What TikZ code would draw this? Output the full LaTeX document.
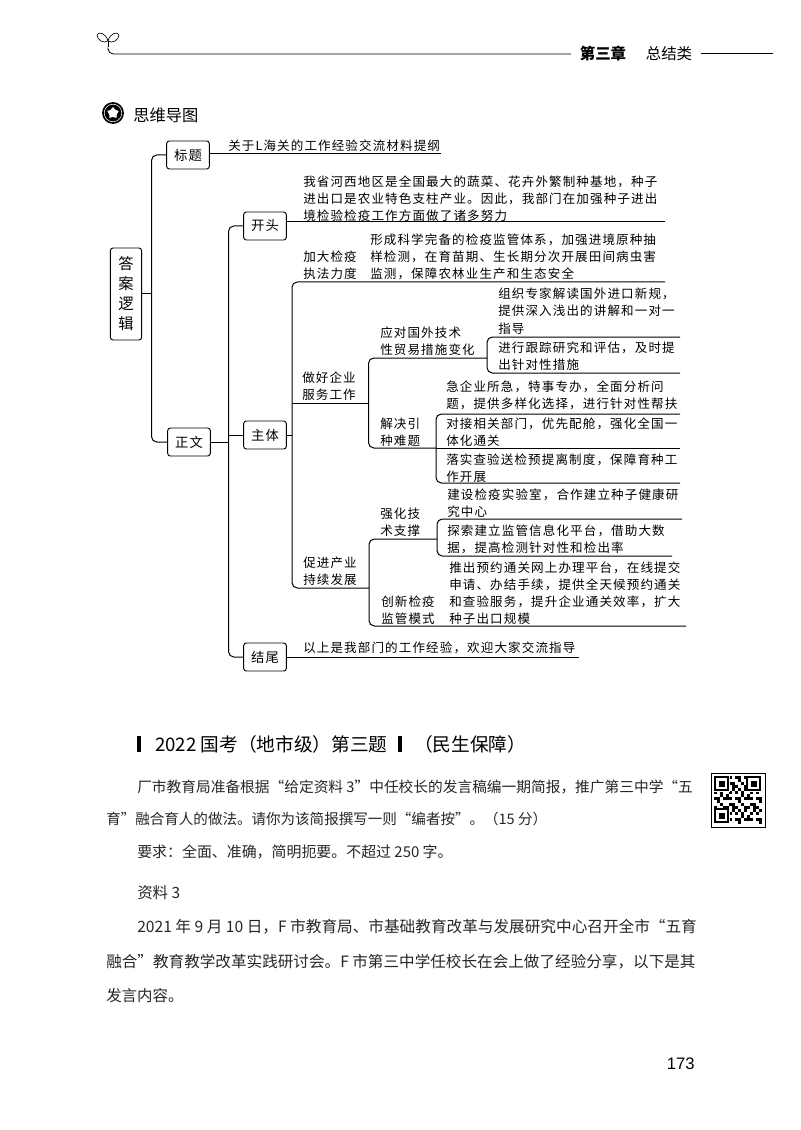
\documentclass[tikz,border=0pt]{standalone}
\usepackage{fontspec}
\setmainfont{Noto Sans CJK SC}
\newfontfamily\latinsans{Liberation Sans}
\newfontfamily\maptext[LetterSpace=9]{Noto Sans CJK SC}
\usetikzlibrary{calc, shapes.geometric}

\begin{document}
\begin{tikzpicture}[x=0.75pt,y=-0.75pt,
    mmbox/.style={draw, rounded corners=2pt, line width=0.7pt, minimum width=32pt, minimum height=21pt, inner sep=0pt, font=\maptext\fontsize{10}{12}\selectfont},
    mmtext/.style={anchor=west, inner sep=0pt, align=left, font=\maptext\fontsize{9.4}{12.9}\selectfont},
    bodytext/.style={anchor=west, inner sep=0pt, text=black!85, font=\fontsize{#1}{14}\selectfont},
    headtext/.style={inner sep=0pt, font=\fontsize{11.6}{13}\selectfont},
    link/.style={line width=0.75pt, rounded corners=4pt},
    rule/.style={line width=0.75pt}]
  \useasboundingbox (0,0) rectangle (800,1130);

  % 1. 页眉
  \draw[line width=0.5pt] (108,41) .. controls (110,33) and (118,31) .. (119,35) .. controls (119,40) and (112,44) .. (108,41);
  \draw[line width=0.5pt] (108,41) .. controls (106,33) and (98,31) .. (97,35) .. controls (97,40) and (104,44) .. (108,41);
  \draw[line width=0.5pt] (108,41) -- (108,47);
  \node[headtext, font=\bfseries\fontsize{11.6}{13}\selectfont] (chapter) at (603,54) {第三章};
  \node[headtext] (kind) at (669,54) {总结类};
  \coordinate (headL) at (108,50);
  \coordinate (headM) at (571,54);
  \coordinate (headR) at (773,54);
  \draw[link, line width=0.6pt] (headL) |- (headM);
  \draw[rule] (kind.east) ++(9,0) -- (headR);

  % 2. 小标题
  \fill (113,113) circle[radius=8.2pt];
  \draw[white, line width=0.4pt] (113,113) circle[radius=6.6pt];
  \node[star, star points=5, fill=white, minimum size=9pt, inner sep=0pt] (badge) at (113,113) {};
  \node[anchor=west, inner sep=0pt, font=\fontsize{12.2}{14}\selectfont] (maptitle) at (133,115) {思维导图};

  % 3. 第一层
  \node[mmbox, minimum width=23.5pt, minimum height=69pt, align=center, font=\maptext\fontsize{11.5}{15}\selectfont] (answer) at (126,294) {答\\案\\逻\\辑};
  \node[mmbox] (title) at (188,155) {标题};
  \node[mmbox] (body) at (189,442) {正文};
  \coordinate (trunkA) at (151.5,294);
  \draw[link] (title.west) -| (trunkA);
  \draw[link] (body.west) -| (trunkA);
  \draw[rule] (answer.east) -- (trunkA);

  \node[mmtext] (titletext) at (228,146) {关于L海关的工作经验交流材料提纲};
  \coordinate (titleend) at (441,154);
  \draw[rule] (title.east |- titleend) -- (titleend);

  % 4. 第二层
  \node[mmbox] (open) at (265,226) {开头};
  \node[mmbox] (main) at (265,435) {主体};
  \node[mmbox] (close) at (265,657) {结尾};
  \coordinate (trunkB) at (228.5,442);
  \draw[link] (open.west) -| (trunkB);
  \draw[link] (close.west) -| (trunkB);
  \draw[rule] (body.east) -- (trunkB);
  \draw[rule] (trunkB |- main.west) -- (main.west);

  \node[mmtext] (opentext) at (303,199) {我省河西地区是全国最大的蔬菜、花卉外繁制种基地，种子\\进出口是农业特色支柱产业。因此，我部门在加强种子进出\\境检验检疫工作方面做了诸多努力};
  \coordinate (openend) at (665,222);
  \draw[rule] (open.east |- openend) -- (openend);

  \node[mmtext] (closetext) at (303,648) {以上是我部门的工作经验，欢迎大家交流指导};
  \coordinate (closeend) at (579,657);
  \draw[rule] (close.east) -- (closeend);

  % 5. 主体
  \node[mmtext] (strict) at (303,265) {加大检疫\\执法力度};
  \node[mmtext] (stricttext) at (370,257) {形成科学完备的检疫监管体系，加强进境原种抽\\样检测，在育苗期、生长期分次开展田间病虫害\\监测，保障农林业生产和生态安全};
  \node[mmtext] (service) at (302,386) {做好企业\\服务工作};
  \node[mmtext] (promote) at (303,571) {促进产业\\持续发展};
  \coordinate (trunkC) at (292,435);
  \coordinate (strictend) at (665,282);
  \coordinate (serviceend) at (368.5,403);
  \coordinate (promoteend) at (369,588);
  \draw[rule] (main.east) -- (trunkC);
  \draw[link] (strictend) -| (trunkC);
  \draw[link] (promoteend) -| (trunkC);
  \draw[rule] (trunkC |- serviceend) -- (serviceend);

  % 6. 做好企业服务工作
  \node[mmtext] (foreign) at (380,341) {应对国外技术\\性贸易措施变化};
  \node[mmtext] (solve) at (380,432) {解决引\\种难题};
  \coordinate (foreignend) at (487,358);
  \coordinate (solveend) at (436,448);
  \draw[link] (foreignend) -| (serviceend);
  \draw[link] (solveend) -| (serviceend);

  \node[mmtext] (foreignA) at (498,311) {组织专家解读国外进口新规，\\提供深入浅出的讲解和一对一\\指导};
  \node[mmtext] (foreignB) at (498,356) {进行跟踪研究和评估，及时提\\出针对性措施};
  \coordinate (foreignAend) at (680,337);
  \coordinate (foreignBend) at (680,373);
  \draw[link] (foreignAend) -| (foreignend);
  \draw[link] (foreignBend) -| (foreignend);

  \node[mmtext] (solveA) at (446,395) {急企业所急，特事专办，全面分析问\\题，提供多样化选择，进行针对性帮扶};
  \node[mmtext] (solveB) at (446,432) {对接相关部门，优先配舱，强化全国一\\体化通关};
  \node[mmtext] (solveC) at (446,468) {落实查验送检预提离制度，保障育种工\\作开展};
  \coordinate (solveAend) at (680,414);
  \coordinate (solveBend) at (680,448);
  \coordinate (solveCend) at (680,483);
  \draw[link] (solveAend) -| (solveend);
  \draw[link] (solveCend) -| (solveend);
  \draw[rule] (solveend) -- (solveBend);

  % 7. 促进产业持续发展
  \node[mmtext] (tech) at (380,522) {强化技\\术支撑};
  \node[mmtext] (mode) at (381,610) {创新检疫\\监管模式};
  \coordinate (techend) at (437,539);
  \coordinate (modeend) at (686,626);
  \draw[link] (techend) -| (promoteend);
  \draw[link] (modeend) -| (promoteend);

  \node[mmtext] (techA) at (447,503) {建设检疫实验室，合作建立种子健康研\\究中心};
  \node[mmtext] (techB) at (447,539) {探索建立监管信息化平台，借助大数\\据，提高检测针对性和检出率};
  \node[mmtext] (modeA) at (449,593) {推出预约通关网上办理平台，在线提交\\申请、办结手续，提供全天候预约通关\\和查验服务，提升企业通关效率，扩大\\种子出口规模};
  \coordinate (techAend) at (682,519);
  \coordinate (techBend) at (672,556);
  \draw[link] (techAend) -| (techend);
  \draw[link] (techBend) -| (techend);

  % 8. 正文部分
  \fill (137,736) rectangle (141,752);
  \fill (398,736) rectangle (402,752);
  \node[anchor=west, inner sep=0pt, font=\fontsize{14}{16}\selectfont] (examtitle) at (155,744) {2022 国考（地市级）第三题};
  \node[anchor=west, inner sep=0pt, font=\fontsize{14}{16}\selectfont] (examkind) at (414,744) {（民生保障）};
  \node[bodytext=11.03] (lineA) at (137,787) {厂市教育局准备根据“给定资料 3”中任校长的发言稿编一期简报，推广第三中学“五};
  \node[bodytext=10.9] (lineB) at (106,819) {育”融合育人的做法。请你为该简报撰写一则“编者按”。（15 分）};
  \node[bodytext=11.2] (lineC) at (137,852) {要求：全面、准确，简明扼要。不超过 250 字。};
  \node[bodytext=11.6] (lineD) at (137,893) {资料 3};
  \node[bodytext=11.73] (lineE) at (137,927) {2021 年 9 月 10 日，F 市教育局、市基础教育改革与发展研究中心召开全市“五育};
  \node[bodytext=11.7] (lineF) at (106,962) {融合”教育教学改革实践研讨会。F 市第三中学任校长在会上做了经验分享，以下是其};
  \node[bodytext=11.6] (lineG) at (106,996) {发言内容。};
  \node[anchor=east, inner sep=0pt, font=\latinsans\fontsize{12.5}{14}\selectfont] (pagenum) at (695,1064) {173};

  % 9. 二维码
  \draw[line width=0.7pt] (711,773) rectangle (765,827);
  \foreach \i in {0,...,15} {
    \foreach \j in {0,...,15} {
      \pgfmathtruncatemacro\qrbit{mod(13*\i*\i+7*\j*\j+11*\i*\j+2*\i*\i*\j+\i+3*\j,7)}
      \ifnum\qrbit<3 \fill (714+3*\i,776+3*\j) rectangle ++(3,3); \fi
    }
  }
  \foreach \qx/\qy in {714/776, 746/776, 714/808} {
    \fill[white] (\qx,\qy) rectangle ++(16,16);
    \draw[line width=1pt] (\qx+1,\qy+1) rectangle ++(13,13);
    \fill (\qx+4.5,\qy+4.5) rectangle ++(6,6);
  }
\end{tikzpicture}
\end{document}
